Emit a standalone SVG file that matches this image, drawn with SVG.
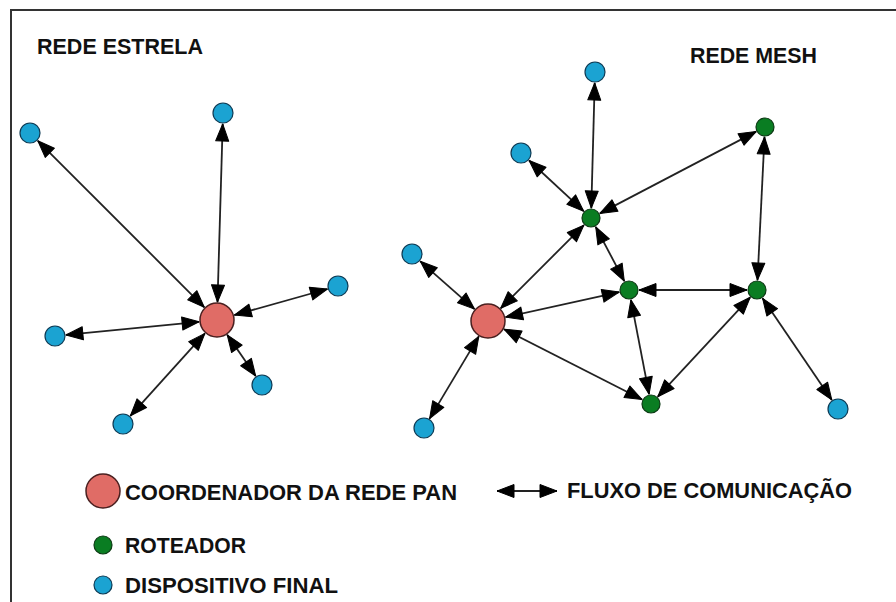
<svg xmlns="http://www.w3.org/2000/svg" width="896" height="602" viewBox="0 0 896 602">
<defs>
<marker id="ah" viewBox="-1 -1 19 15" refX="17" refY="6.5" markerWidth="19" markerHeight="15" markerUnits="userSpaceOnUse" orient="auto-start-reverse">
<path d="M0,0 L17,6.5 L0,13 z" fill="#000" stroke="#000" stroke-width="1" stroke-linejoin="round"/>
</marker>
</defs>
<style>
.t{font-family:"Liberation Sans",Arial,sans-serif;font-weight:bold;font-size:22px;fill:#111}
.e line{stroke:#222;stroke-width:1.8}
.coord{fill:#e06c66;stroke:#4a2020;stroke-width:1.5}
.rout{fill:#0a7d22;stroke:#0c3a14;stroke-width:1.2}
.dev{fill:#1ba3d2;stroke:#0d3b55;stroke-width:1.2}
</style>
<rect x="0" y="0" width="896" height="602" fill="#fff"/>
<path d="M11,602 L11,10 L896,10" fill="none" stroke="#333" stroke-width="2"/>
<text class="t" x="37" y="54" textLength="166" lengthAdjust="spacingAndGlyphs">REDE ESTRELA</text>
<text class="t" x="690" y="63" textLength="127" lengthAdjust="spacingAndGlyphs">REDE MESH</text>
<g id="connectors" class="e" marker-start="url(#ah)" marker-end="url(#ah)">
<line x1="204.3" y1="307.3" x2="37.8" y2="140.8" marker-start="url(#ah)" marker-end="url(#ah)"/>
<line x1="217.5" y1="302" x2="222.7" y2="124" marker-start="url(#ah)" marker-end="url(#ah)"/>
<line x1="234.3" y1="315.1" x2="327.4" y2="289" marker-start="url(#ah)" marker-end="url(#ah)"/>
<line x1="199.1" y1="321.8" x2="65.9" y2="334.9" marker-start="url(#ah)" marker-end="url(#ah)"/>
<line x1="204.9" y1="333.4" x2="130.4" y2="415.8" marker-start="url(#ah)" marker-end="url(#ah)"/>
<line x1="227.2" y1="334.8" x2="255.7" y2="376" marker-start="url(#ah)" marker-end="url(#ah)"/>
<line x1="594.7" y1="83" x2="591.3" y2="208" marker-start="url(#ah)" marker-end="url(#ah)"/>
<line x1="529.1" y1="160.5" x2="583.7" y2="211.2" marker-start="url(#ah)" marker-end="url(#ah)"/>
<line x1="756.1" y1="131.6" x2="599.9" y2="213.4" marker-start="url(#ah)" marker-end="url(#ah)"/>
<line x1="420.3" y1="261.3" x2="474.5" y2="309.1" marker-start="url(#ah)" marker-end="url(#ah)"/>
<line x1="583.9" y1="225.1" x2="500.7" y2="308.3" marker-start="url(#ah)" marker-end="url(#ah)"/>
<line x1="595.7" y1="226.8" x2="624.3" y2="281.2" marker-start="url(#ah)" marker-end="url(#ah)"/>
<line x1="619.2" y1="292.1" x2="505.6" y2="317.1" marker-start="url(#ah)" marker-end="url(#ah)"/>
<line x1="639" y1="290" x2="747" y2="290" marker-start="url(#ah)" marker-end="url(#ah)"/>
<line x1="764.5" y1="137" x2="757.5" y2="280" marker-start="url(#ah)" marker-end="url(#ah)"/>
<line x1="630.9" y1="299.8" x2="649.1" y2="394.2" marker-start="url(#ah)" marker-end="url(#ah)"/>
<line x1="504" y1="329.2" x2="642.1" y2="399.5" marker-start="url(#ah)" marker-end="url(#ah)"/>
<line x1="750.2" y1="297.3" x2="657.8" y2="396.7" marker-start="url(#ah)" marker-end="url(#ah)"/>
<line x1="762.6" y1="298.3" x2="831.8" y2="399.9" marker-start="url(#ah)" marker-end="url(#ah)"/>
<line x1="478.8" y1="336.4" x2="429.6" y2="418.6" marker-start="url(#ah)" marker-end="url(#ah)"/>
<line x1="497" y1="491" x2="557" y2="491" marker-start="url(#ah)" marker-end="url(#ah)"/>
</g>
<g id="star-coordinator"><circle class="coord" cx="217" cy="320" r="17"/></g>
<g id="star-dev1"><circle class="dev" cx="30" cy="133" r="10"/></g>
<g id="star-dev2"><circle class="dev" cx="223" cy="113" r="10"/></g>
<g id="star-dev3"><circle class="dev" cx="338" cy="286" r="10"/></g>
<g id="star-dev4"><circle class="dev" cx="55" cy="336" r="10"/></g>
<g id="star-dev5"><circle class="dev" cx="123" cy="424" r="10"/></g>
<g id="star-dev6"><circle class="dev" cx="262" cy="385" r="10"/></g>
<g id="mesh-coordinator"><circle class="coord" cx="488" cy="321" r="17"/></g>
<g id="mesh-dev1"><circle class="dev" cx="595" cy="72" r="10"/></g>
<g id="mesh-dev2"><circle class="dev" cx="521" cy="153" r="10"/></g>
<g id="mesh-dev3"><circle class="dev" cx="412" cy="254" r="10"/></g>
<g id="mesh-dev4"><circle class="dev" cx="424" cy="428" r="10"/></g>
<g id="mesh-dev5"><circle class="dev" cx="838" cy="409" r="10"/></g>
<g id="mesh-router1"><circle class="rout" cx="591" cy="218" r="9"/></g>
<g id="mesh-router2"><circle class="rout" cx="765" cy="127" r="9"/></g>
<g id="mesh-router3"><circle class="rout" cx="629" cy="290" r="9"/></g>
<g id="mesh-router4"><circle class="rout" cx="757" cy="290" r="9"/></g>
<g id="mesh-router5"><circle class="rout" cx="651" cy="404" r="9"/></g>
<g id="legend">
<circle class="coord" cx="103" cy="491" r="17"/>
<text class="t" x="125" y="500" textLength="332" lengthAdjust="spacingAndGlyphs">COORDENADOR DA REDE PAN</text>
<circle class="rout" cx="103" cy="545" r="9"/>
<text class="t" x="125" y="553" textLength="121" lengthAdjust="spacingAndGlyphs">ROTEADOR</text>
<circle class="dev" cx="103" cy="585" r="9"/>
<text class="t" x="125" y="593" textLength="213" lengthAdjust="spacingAndGlyphs">DISPOSITIVO FINAL</text>
<text class="t" x="567" y="498" textLength="285" lengthAdjust="spacingAndGlyphs">FLUXO DE COMUNICAÇÃO</text>
</g>
</svg>
